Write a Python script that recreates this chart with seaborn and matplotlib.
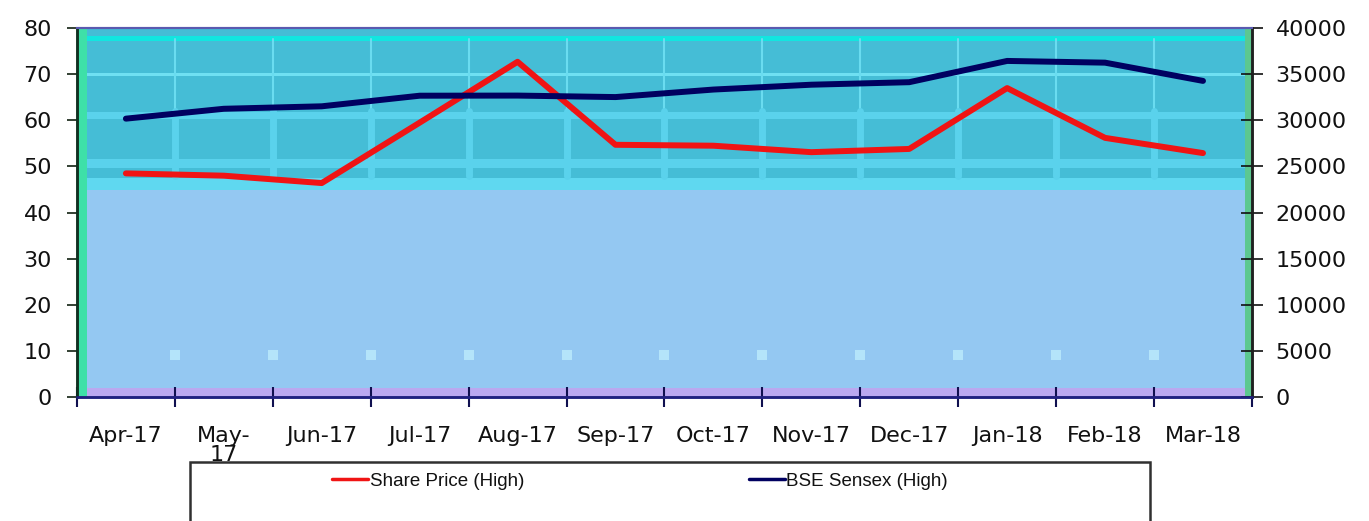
import numpy as np
import pandas as pd
import matplotlib
matplotlib.use("Agg")
import matplotlib.pyplot as plt
import seaborn as sns
from matplotlib.patches import Rectangle

# Data
months = ["Apr-17", "May-\n17", "Jun-17", "Jul-17", "Aug-17", "Sep-17", "Oct-17",
          "Nov-17", "Dec-17", "Jan-18", "Feb-18", "Mar-18"]
share_high = [48.5, 48.0, 46.4, 59.5, 72.7, 54.7, 54.5, 53.1, 53.8, 67.0, 56.2, 52.9]
sensex_high = [30184, 31255, 31523, 32672, 32686, 32524, 33340, 33865, 34138, 36443, 36256, 34278]

df = pd.DataFrame({"pos": np.arange(len(months)), "share": share_high, "sensex": sensex_high})

sns.set_style("white")
plt.rcParams["font.family"] = ["DejaVu Sans"]

fig = plt.figure(figsize=(13.69, 5.21), dpi=100)
ax = fig.add_axes([0.0562, 0.238, 0.8583, 0.708])
ax2 = ax.twinx()

n = len(months)
bounds = np.arange(n + 1) - 0.5

# background bands (old Excel-style gradient)
ax.axhspan(0, 2, color="#bba8f0", lw=0, zorder=0)
ax.axhspan(2, 44.9, color="#94c8f2", lw=0, zorder=0)
ax.axhspan(44.9, 47.5, color="#5fd8f0", lw=0, zorder=0)
ax.axhspan(47.5, 80, color="#45bdd6", lw=0, zorder=0)
ax.axhspan(49.6, 51.6, color="#5ad2ec", lw=0, zorder=0)
ax.axhspan(60.3, 61.8, color="#5ad2ec", lw=0, zorder=0)
ax.axhspan(69.6, 70.2, color="#6fe0f2", lw=0, zorder=0)
ax.axhspan(77.3, 78.4, color="#12e6e0", lw=0, zorder=0)
for b in bounds[1:-1]:
    ax.axvline(b, ymin=0.775, ymax=0.97, color="#6adcf0", lw=1.5, zorder=0.5)
    ax.axvline(b, ymin=0.6, ymax=0.775, color="#5ad2ec", lw=5, zorder=0.5)
ax.scatter(bounds[1:-1], np.full(n - 1, 9.1), marker="s", s=45, color="#b4e4fa",
           linewidths=0, zorder=0.6)
ax.axvspan(-0.5, -0.4, color="#3ee0a8", lw=0, zorder=0.7)
ax.axvspan(11.43, 11.5, color="#5cc890", lw=0, zorder=0.7)

# lines
sns.lineplot(data=df, x="pos", y="share", ax=ax, color="#f01414", lw=4.3,
             label="Share Price (High)", legend=False, zorder=3)
sns.lineplot(data=df, x="pos", y="sensex", ax=ax2, color="#000060", lw=4.3,
             label="BSE Sensex (High)", legend=False, zorder=3)

ax.set_xlim(-0.5, n - 0.5)
ax.set_ylim(0, 80)
ax2.set_ylim(0, 40000)
ax.set_yticks(np.arange(0, 81, 10))
ax2.set_yticks(np.arange(0, 40001, 5000))
ax.set_xticks(np.arange(n))
ax.set_xticklabels(months, fontsize=16, linespacing=0.9)
ax.set_xticks(bounds, minor=True)
ax.tick_params(axis="x", which="major", length=0, pad=21, labelcolor="#111111")
ax.tick_params(axis="x", which="minor", bottom=True, length=14, width=1.5,
               direction="inout", color="#101050")
ax.tick_params(axis="y", left=True, length=14, width=1.2, direction="inout", pad=11,
               labelsize=16, color="#102010", labelcolor="#111111")
ax2.tick_params(axis="y", right=True, length=16, width=1.2, direction="inout", pad=9,
                labelsize=16, color="#101010", labelcolor="#111111")
ax.set_xlabel("")
ax.set_ylabel("")
ax2.set_ylabel("")

for a in (ax, ax2):
    a.spines["top"].set_visible(True)
    a.spines["top"].set_color("#5a5ab0")
    a.spines["top"].set_linewidth(1.5)
    a.spines["left"].set_color("#103020")
    a.spines["left"].set_linewidth(1.8)
    a.spines["right"].set_color("#202020")
    a.spines["right"].set_linewidth(1.8)
    a.spines["bottom"].set_color("#202080")
    a.spines["bottom"].set_linewidth(1.8)

# legend box below, running off the bottom edge
fig.patches.append(Rectangle((190 / 1369, -0.05), 960 / 1369, 1 - 462 / 521 + 0.05,
                             transform=fig.transFigure, fill=False, ec="#303030", lw=1.8))
h1, l1 = ax.get_legend_handles_labels()
h2, l2 = ax2.get_legend_handles_labels()
fig.legend(h1 + h2, l1 + l2, ncol=2, frameon=False,
           prop={"family": "Liberation Sans", "size": 13.5},
           loc="center", bbox_to_anchor=(0.4675, 1 - 481 / 521),
           handlelength=1.9, handletextpad=0.1, columnspacing=12.0)
for line in fig.legends[0].get_lines():
    line.set_linewidth(2.5)
for t in fig.legends[0].get_texts():
    t.set_color("#111111")

fig.savefig("out.png", dpi=100)
